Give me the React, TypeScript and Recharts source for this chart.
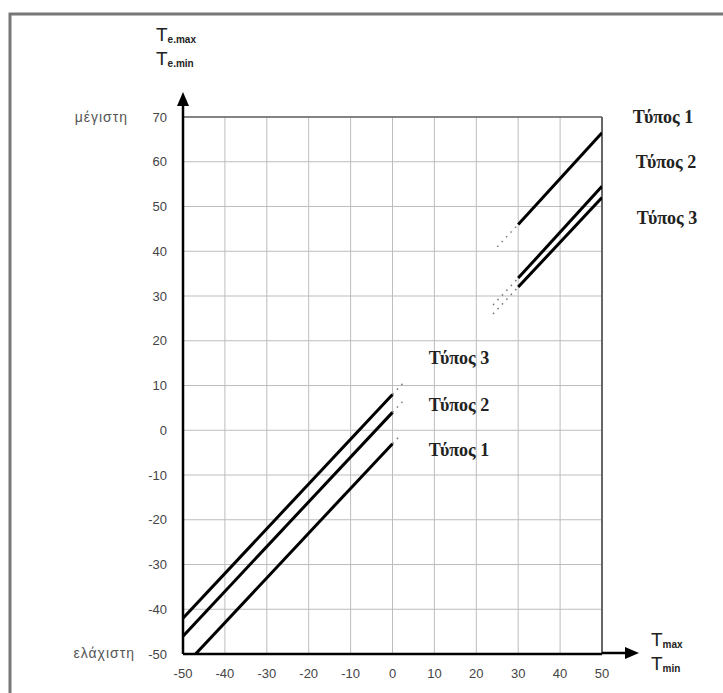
import React from 'react';
import { LineChart, Line, XAxis, YAxis, CartesianGrid, ReferenceLine } from 'recharts';

// axis ticks
const xTicks = [-50, -40, -30, -20, -10, 0, 10, 20, 30, 40, 50];
const yTicks = [-50, -40, -30, -20, -10, 0, 10, 20, 30, 40, 50, 60, 70];

// minimum (Tmin -> Te.min), solid part
const type1Min = [{ t: -47, te: -50 }, { t: 0, te: -3 }];
const type2Min = [{ t: -50, te: -46 }, { t: 0, te: 4 }];
const type3Min = [{ t: -50, te: -42 }, { t: 0, te: 8 }];
// dotted continuation past 0
const type1MinDots = [{ t: 0, te: -3 }, { t: 2, te: -1 }];
const type2MinDots = [{ t: 0, te: 4 }, { t: 3, te: 7 }];
const type3MinDots = [{ t: 0, te: 8 }, { t: 3, te: 11 }];

// maximum (Tmax -> Te.max), solid part
const type1Max = [{ t: 30, te: 46 }, { t: 50, te: 66.5 }];
const type2Max = [{ t: 30, te: 34 }, { t: 50, te: 54.5 }];
const type3Max = [{ t: 30, te: 32 }, { t: 50, te: 52 }];
// dotted lead-in before 30
const type1MaxDots = [{ t: 25, te: 41 }, { t: 30, te: 46 }];
const type2MaxDots = [{ t: 24, te: 28 }, { t: 30, te: 34 }];
const type3MaxDots = [{ t: 24, te: 26 }, { t: 30, te: 32 }];

const solidSeries = [type1Min, type2Min, type3Min, type1Max, type2Max, type3Max];
const dottedSeries = [type1MinDots, type2MinDots, type3MinDots, type1MaxDots, type2MaxDots, type3MaxDots];

const sans = '"Liberation Sans", Arial, sans-serif';
const serif = '"Liberation Serif", "Times New Roman", serif';

const typeLabelStyle: React.CSSProperties = {
  fontFamily: serif,
  fontWeight: 'bold',
  fontSize: 18,
  fill: '#222',
};

export default function App() {
  return (
    <div style={{ position: 'absolute', left: 0, top: 0, width: 723, height: 693, background: '#fff' }}>
      <LineChart
        width={723}
        height={693}
        margin={{ top: 117, right: 121, left: 123, bottom: 9 }}
      >
        <CartesianGrid stroke="#bdbdbd" strokeWidth={1} />
        <XAxis
          type="number"
          dataKey="t"
          domain={[-50, 50]}
          ticks={xTicks}
          height={30}
          tickSize={0}
          tickMargin={15}
          axisLine={{ stroke: '#000', strokeWidth: 2.5 }}
          tick={{ fontFamily: sans, fontSize: 13, fill: '#444' }}
          allowDataOverflow
        />
        <YAxis
          type="number"
          dataKey="te"
          domain={[-50, 70]}
          ticks={yTicks}
          width={60}
          tickSize={0}
          tickMargin={16}
          axisLine={{ stroke: '#000', strokeWidth: 2.5 }}
          tick={{ fontFamily: sans, fontSize: 13, fill: '#444' }}
          allowDataOverflow
        />
        <ReferenceLine y={70} stroke="#666" strokeWidth={1.5} />
        <ReferenceLine x={50} stroke="#666" strokeWidth={2} />
        {dottedSeries.map((d, i) => (
          <Line
            key={'d' + i}
            data={d}
            dataKey="te"
            type="linear"
            stroke="#777"
            strokeWidth={1.5}
            strokeDasharray="1.5 5"
            dot={false}
            activeDot={false}
            isAnimationActive={false}
          />
        ))}
        {solidSeries.map((d, i) => (
          <Line
            key={'s' + i}
            data={d}
            dataKey="te"
            type="linear"
            stroke="#000"
            strokeWidth={3}
            dot={false}
            activeDot={false}
            isAnimationActive={false}
          />
        ))}
      </LineChart>

      {/* frame, arrows and annotations */}
      <svg
        width={723}
        height={693}
        style={{ position: 'absolute', left: 0, top: 0, pointerEvents: 'none' }}
      >
        <path d="M10,693 L10,14 L723,14" fill="none" stroke="#777" strokeWidth={3} />

        {/* y arrow */}
        <line x1={183} y1={117} x2={183} y2={104} stroke="#000" strokeWidth={2.5} />
        <polygon points="183,92 177,106 189,106" fill="#000" />
        {/* x arrow */}
        <line x1={602} y1={653} x2={626} y2={653} stroke="#000" strokeWidth={2.5} />
        <polygon points="639,653 625,647 625,659" fill="#000" />

        {/* y title */}
        <text x={156} y={41} fontFamily={sans} fontSize={19} fill="#222">
          T<tspan fontSize={10} fontWeight="bold" dy={2}>e.max</tspan>
        </text>
        <text x={156} y={65} fontFamily={sans} fontSize={19} fill="#222">
          T<tspan fontSize={10} fontWeight="bold" dy={2}>e.min</tspan>
        </text>

        {/* x title */}
        <text x={651} y={646} fontFamily={sans} fontSize={19} fill="#222">
          T<tspan fontSize={10} fontWeight="bold" dy={2}>max</tspan>
        </text>
        <text x={651} y={670} fontFamily={sans} fontSize={19} fill="#222">
          T<tspan fontSize={10} fontWeight="bold" dy={2}>min</tspan>
        </text>

        <text x={128} y={122} textAnchor="end" fontFamily={sans} fontSize={14} letterSpacing={1} fill="#555">μέγιστη</text>
        <text x={135} y={658} textAnchor="end" fontFamily={sans} fontSize={14} letterSpacing={1} fill="#555">ελάχιστη</text>

        {/* type labels, maximum */}
        <text x={663} y={123} textAnchor="middle" style={typeLabelStyle}>Τύπος 1</text>
        <text x={666} y={168} textAnchor="middle" style={typeLabelStyle}>Τύπος 2</text>
        <text x={667} y={224} textAnchor="middle" style={typeLabelStyle}>Τύπος 3</text>

        {/* type labels, minimum */}
        <text x={459} y={364} textAnchor="middle" style={typeLabelStyle}>Τύπος 3</text>
        <text x={459} y={411} textAnchor="middle" style={typeLabelStyle}>Τύπος 2</text>
        <text x={459} y={456} textAnchor="middle" style={typeLabelStyle}>Τύπος 1</text>
      </svg>
    </div>
  );
}
